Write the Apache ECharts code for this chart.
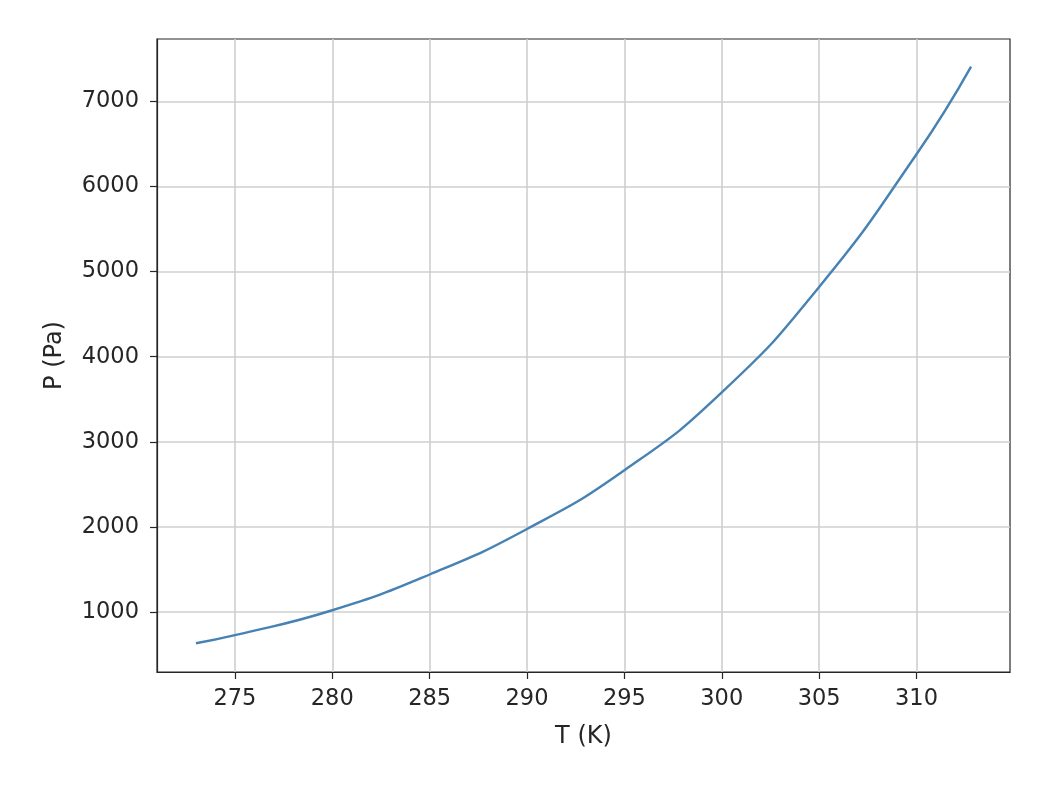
<!DOCTYPE html>
<html>
<head>
<meta charset="utf-8">
<script src="https://cdn.jsdelivr.net/npm/echarts@6/dist/echarts.min.js"></script>
<style>
  html, body { margin: 0; padding: 0; background: #ffffff; }
  #chart { width: 1046px; height: 786px; }
</style>
</head>
<body>
<div id="chart"></div>
<script>
// Temperature (K) and vapour pressure (Pa)
const temperatures = [273, 275, 280, 285, 290, 295, 300, 305, 310, 312.8];
const pressures    = [632, 727, 1020, 1440, 1975, 2665, 3580, 4820, 6380, 7410];

const xTicks = [275, 280, 285, 290, 295, 300, 305, 310];
const yTicks = [1000, 2000, 3000, 4000, 5000, 6000, 7000];

const xTitle = 'T (K)';
const yTitle = 'P (Pa)';

const textColor = '#262626';
const fontFamily = 'DejaVu Sans';

const chart = echarts.init(document.getElementById('chart'), null, { renderer: 'canvas' });

const seriesData = temperatures.map((t, i) => [t, pressures[i]]);

chart.setOption({
  backgroundColor: '#ffffff',
  animation: false,
  grid: {
    left: 157, right: 36, top: 39, bottom: 114,
    show: true, borderColor: '#262626', borderWidth: 1.2,
    containLabel: false
  },
  xAxis: {
    type: 'value',
    min: 271.0, max: 314.8,
    name: xTitle,
    nameLocation: 'middle',
    nameGap: 53,
    nameTextStyle: { color: textColor, fontSize: 24, fontFamily: fontFamily },
    axisLine: { show: true, onZero: false, lineStyle: { color: '#262626', width: 1.2 } },
    axisTick: { show: true, inside: false, length: 7, customValues: xTicks, lineStyle: { color: '#262626', width: 1.2 } },
    axisLabel: { customValues: xTicks, color: textColor, fontSize: 22.5, fontFamily: fontFamily, margin: 16,
                 formatter: v => String(v) },
    splitLine: { show: true, lineStyle: { color: '#cfcfcf', width: 1.6 } }
  },
  yAxis: {
    type: 'value',
    min: 294, max: 7734,
    name: yTitle,
    nameLocation: 'middle',
    nameGap: 90,
    nameRotate: 90,
    nameTextStyle: { color: textColor, fontSize: 24, fontFamily: fontFamily },
    axisLine: { show: true, onZero: false, lineStyle: { color: '#262626', width: 1.2 } },
    axisTick: { show: true, inside: false, length: 7, customValues: yTicks, lineStyle: { color: '#262626', width: 1.2 } },
    axisLabel: { customValues: yTicks, color: textColor, fontSize: 22.5, fontFamily: fontFamily, margin: 18,
                 formatter: v => String(v) },
    splitLine: { show: true, lineStyle: { color: '#cfcfcf', width: 1.6 } }
  },
  series: [{
    type: 'line',
    data: seriesData,
    showSymbol: false,
    smooth: 0.5,
    lineStyle: { color: '#4682b4', width: 2.4 },
    itemStyle: { color: '#4682b4' }
  }]
});
</script>
</body>
</html>
